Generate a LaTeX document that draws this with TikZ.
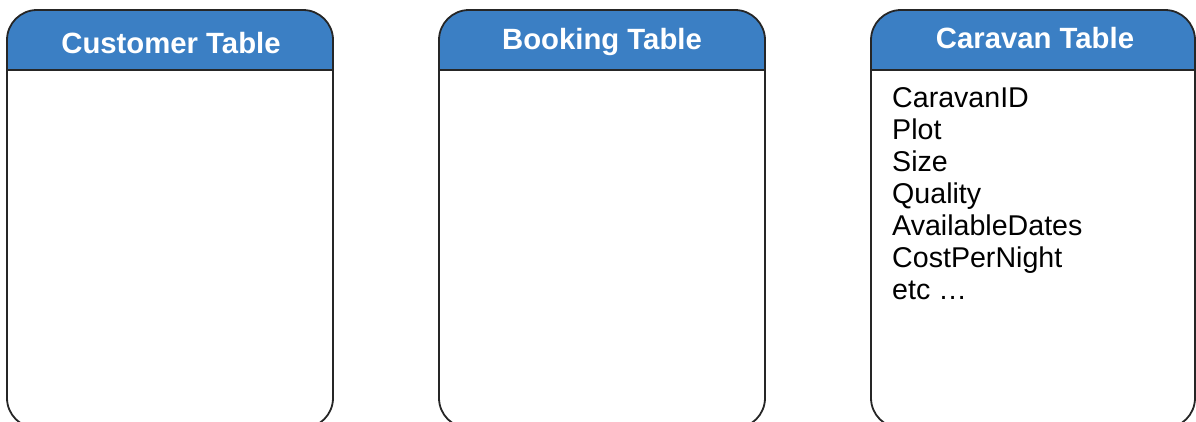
\documentclass[tikz,border=0pt]{standalone}
\usepackage{fontspec}
\setmainfont{Liberation Sans}
\definecolor{hdrblue}{RGB}{59,127,196}
\begin{document}
\begin{tikzpicture}[x=1pt,y=-1pt,
  boxline/.style={draw=black!85,line width=1.8pt,rounded corners=30pt},
  hdrtext/.style={anchor=base,inner sep=0pt,text=white,font=\bfseries\fontsize{29.3}{34}\selectfont},
  fieldtext/.style={anchor=base west,inner sep=0pt,font=\fontsize{28.6}{32}\selectfont}]
\useasboundingbox (0,0) rectangle (1196,421);
\clip (0,0) rectangle (1196,421);
% boxes: left, right
\foreach \l/\r/\n in {7/333/cust,439/765/book,871/1195/car}{
  \begin{scope}
    \clip (\l,0) rectangle (\r,70);
    \fill[hdrblue,rounded corners=30pt] (\l,10) rectangle (\r,428);
  \end{scope}
  \draw[black!85,line width=1.8pt] (\l,70) -- (\r,70);
  \draw[boxline] (\l,10) rectangle (\r,428);
}
\node[hdrtext] (custh) at (171,53) {Customer Table};
\node[hdrtext] (bookh) at (602,49) {Booking Table};
\node[hdrtext] (carh) at (1035,48) {Caravan Table};
\foreach \t [count=\i] in {CaravanID,Plot,Size,Quality,AvailableDates,CostPerNight,etc …}{
  \node[fieldtext] (f\i) at (892,{107+32.1*(\i-1)}) {\t};
}
\end{tikzpicture}
\end{document}
